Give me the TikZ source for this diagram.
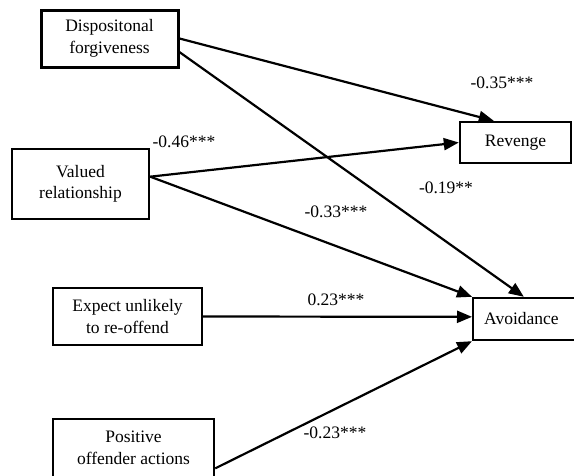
\documentclass[tikz,border=0pt]{standalone}
\usepackage{fontspec}
\setmainfont{Liberation Serif}
\usetikzlibrary{arrows.meta}

\begin{document}
\begin{tikzpicture}[x=1pt,y=-1pt,font=\fontsize{17.5}{21.5}\selectfont]
\tikzstyle{effetto} = [line width=2.2pt,-{Triangle[length=15pt,width=12pt]}]
\tikzstyle{variabile} = [draw,line width=2.4pt,align=center,inner sep=0pt]
\useasboundingbox (0,0) rectangle (574,475);
\node[variabile,line width=3pt,minimum width=137pt,minimum height=57pt] (v1) at (109.5,38.5) {Dispositonal\\forgiveness};
\node[variabile,minimum width=137pt,minimum height=70pt] (v2) at (80.5,184) {Valued\\relationship};
\node[variabile,minimum width=149pt,minimum height=57pt] (v3) at (127.5,316.5) {Expect unlikely\\to re-offend};
\node[variabile,minimum width=161pt,minimum height=58pt] (v4) at (133.5,448) {Positive\\offender actions};
\node[variabile,minimum width=111pt,minimum height=41pt] (v5) at (515.5,142.5) {Revenge};
\node[variabile,anchor=west,align=left,text width=100pt,inner xsep=11pt,minimum height=42pt] (v6) at (472,319) {Avoidance};
\draw[effetto] (v1.east) -- (v5.135);
\draw[effetto] (v1.-11) -- (v6.115);
\draw[effetto] (v2.6) -- (v5.west);
\draw[effetto] (v2.6) -- (v6.north west);
\draw[effetto] (v3.east) -- (v6.178);
\draw[effetto] (v4.-14) -- (v6.south west);
\node (l1) at (502,83) {-0.35***};
\node (l2) at (184,142) {-0.46***};
\node (l3) at (446,188) {-0.19**};
\node (l4) at (336,212) {-0.33***};
\node (l5) at (336,300) {0.23***};
\node (l6) at (335,433) {-0.23***};
\end{tikzpicture}
\end{document}
